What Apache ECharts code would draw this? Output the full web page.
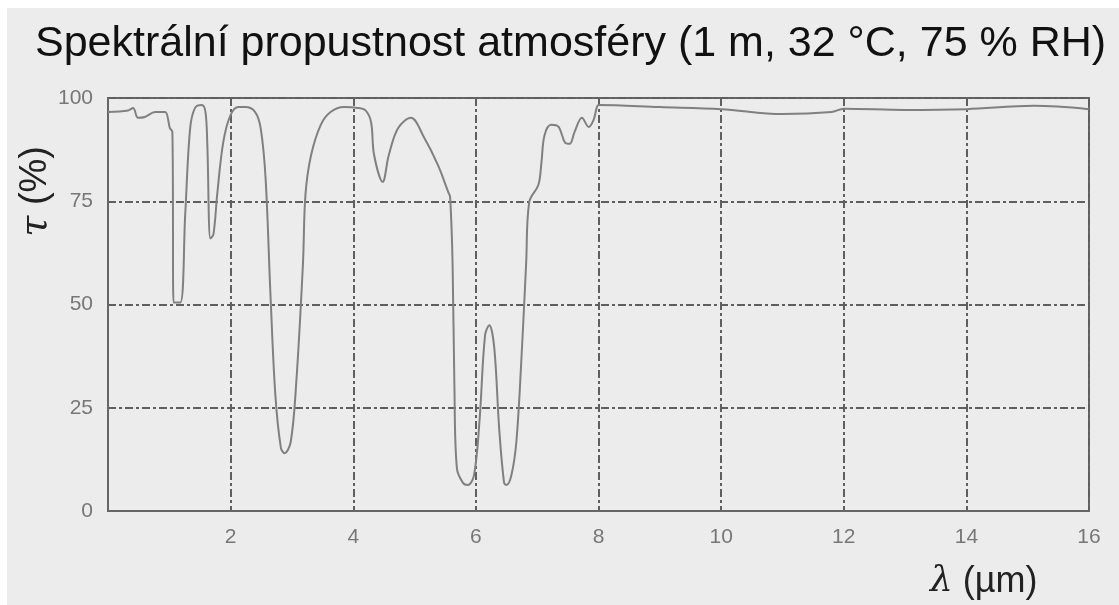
<!DOCTYPE html>
<html>
<head>
<meta charset="utf-8">
<script src="https://cdn.jsdelivr.net/npm/echarts@6/dist/echarts.min.js"></script>
<style>
  html, body { margin: 0; padding: 0; background: #fff; }
  #chart { position: absolute; left: 7px; top: 8px; width: 1112px; height: 597px; background: #ececec; }
</style>
</head>
<body>
<div id="chart"></div>
<script>
// vlnova delka (um)
var wavelength = [0, 0.33, 0.41, 0.49, 0.6, 0.77, 0.93, 1.01, 1.05, 1.07, 1.18, 1.26, 1.34, 1.42, 1.53, 1.59, 1.62, 1.67,
  1.72, 1.78, 1.88, 2.0, 2.13, 2.24, 2.4, 2.49, 2.57, 2.65, 2.73, 2.82, 2.88, 2.98, 3.07, 3.18, 3.22, 3.31, 3.47, 3.63,
  3.85, 4.07, 4.2, 4.29, 4.34, 4.48, 4.58, 4.73, 4.94, 5.16, 5.38, 5.55, 5.58, 5.62, 5.65, 5.69, 5.79, 5.87, 5.97, 6.06,
  6.15, 6.22, 6.3, 6.38, 6.46, 6.5, 6.58, 6.66, 6.74, 6.82, 6.87, 7.02, 7.07, 7.12, 7.23, 7.35, 7.45, 7.53, 7.61, 7.73,
  7.84, 7.92, 7.97, 8.0, 9.0, 10.0, 11.0, 11.8, 12.0, 13.0, 14.0, 15.1, 16.0];
// propustnost tau (%)
var tau = [96.6, 97, 97.6, 95.2, 95.4, 96.6, 96.6, 92.7, 91.8, 50.5, 50.5, 72, 92.7, 97.6, 98.3, 96.6, 88.6, 66,
  67, 76.5, 89.3, 95.9, 97.8, 97.8, 96.6, 92.7, 80.6, 52.3, 28, 15.3, 14, 16.7, 31, 60, 76.5, 86, 93.5, 96.6,
  97.8, 97.6, 97, 94.2, 86.2, 79.7, 86.2, 92.7, 95.2, 90.3, 83.8, 77.2, 76, 60, 30, 10.4, 6.8, 6.3, 8.7, 22,
  42.6, 45, 39.5, 20, 6.8, 6.3, 8.7, 16.7, 36, 60, 74.8, 79, 84.5, 91, 93.5, 93, 89.3, 88.9, 91.8, 95.2,
  93, 94.7, 97.6, 98.3, 97.8, 97.3, 96.1, 96.6, 97.4, 97.1, 97.3, 98.1, 97.3];
var yTicks = [0, 25, 50, 75, 100];
var xTicks = [2, 4, 6, 8, 10, 12, 14, 16];

var chart = echarts.init(document.getElementById('chart'));
var points = wavelength.map(function (w, i) { return [w, tau[i]]; });
var gridLine = { color: '#5f5f5f', width: 2, type: [8, 3, 3, 3] };

var option = {
  backgroundColor: '#ececec',
  animation: false,
  title: {
    text: 'Spektrální propustnost atmosféry (1 m, 32 °C, 75 % RH)',
    left: 23,
    top: 10,
    textStyle: { fontFamily: 'Liberation Sans', fontSize: 43, fontWeight: 'normal', color: '#111' }
  },
  grid: {
    left: 101, right: 30, top: 90, bottom: 94,
    show: true, borderColor: '#666', borderWidth: 2, backgroundColor: 'transparent'
  },
  xAxis: {
    type: 'value', min: 0, max: 16, interval: 2,
    axisLine: { lineStyle: { color: '#666', width: 2 } },
    axisTick: { show: false },
    axisLabel: {
      margin: 16, color: '#777', fontSize: 21, fontFamily: 'Liberation Sans',
      formatter: function (v) { return xTicks.indexOf(v) >= 0 ? String(v) : ''; }
    },
    splitLine: { show: true, lineStyle: gridLine }
  },
  yAxis: {
    type: 'value', min: 0, max: 100, interval: 25,
    axisLine: { show: true, lineStyle: { color: '#666', width: 2 } },
    axisTick: { show: false },
    axisLabel: {
      margin: 15, color: '#777', fontSize: 21, fontFamily: 'Liberation Sans',
      formatter: function (v) { return yTicks.indexOf(v) >= 0 ? String(v) : ''; }
    },
    splitLine: { show: true, lineStyle: gridLine }
  },
  graphic: [
    {
      type: 'text', left: 10, top: 138, rotation: Math.PI / 2,
      style: {
        text: '{i|τ} (%)',
        fontFamily: 'Liberation Sans', fontSize: 38, fill: '#222',
        rich: { i: { fontFamily: 'DejaVu Serif', fontStyle: 'italic', fontSize: 38, fill: '#222' } }
      }
    },
    {
      type: 'text', left: 923, top: 556,
      style: {
        text: '{i|λ} (µm)',
        fontFamily: 'Liberation Sans', fontSize: 36, fill: '#222',
        rich: { i: { fontFamily: 'DejaVu Serif', fontStyle: 'italic', fontSize: 36, fill: '#222' } }
      }
    }
  ],
  series: [{
    type: 'line',
    data: points,
    showSymbol: false,
    smooth: 0.35,
    lineStyle: { color: '#808080', width: 2 }
  }]
};
chart.setOption(option);
</script>
</body>
</html>
